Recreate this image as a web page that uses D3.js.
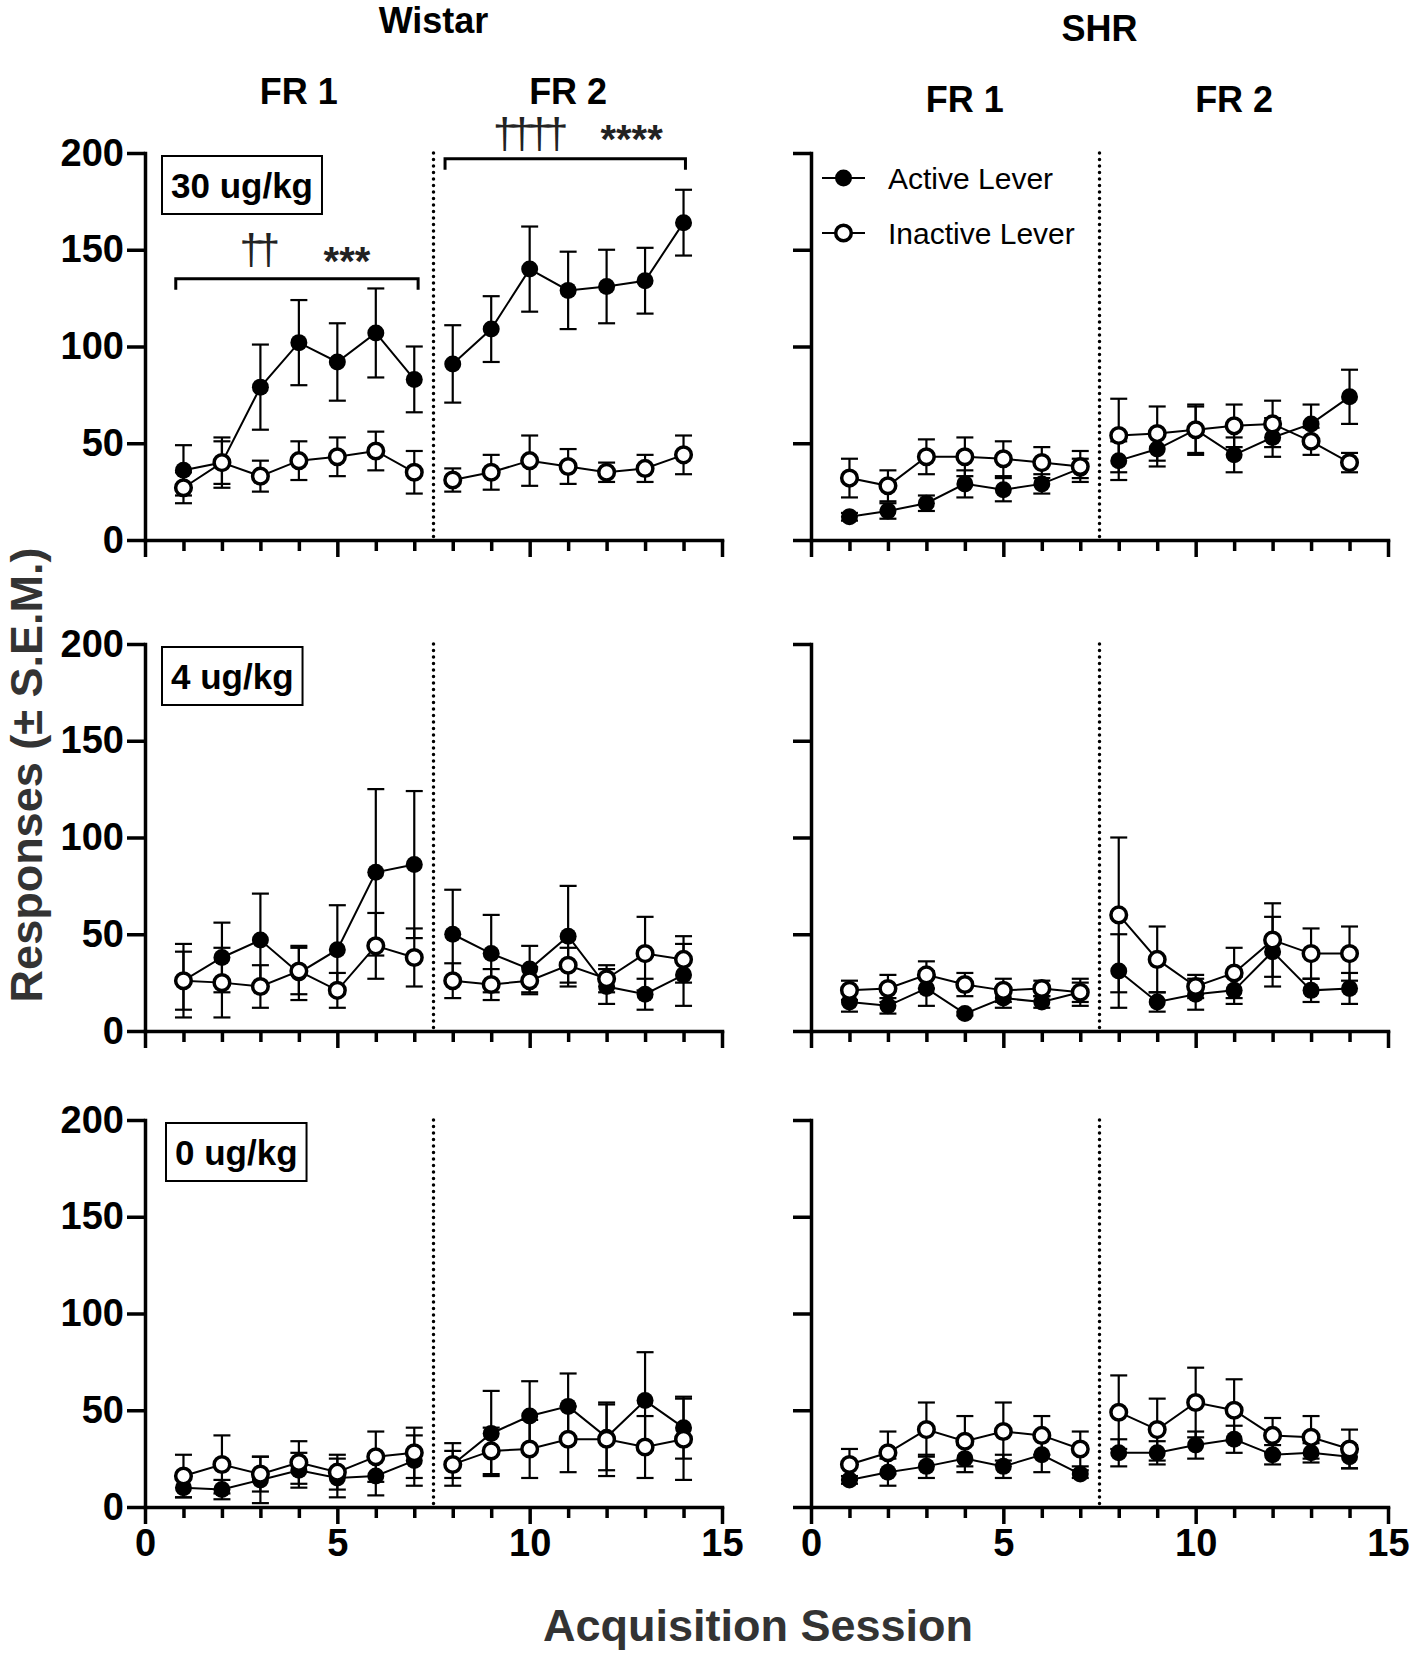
<!DOCTYPE html>
<html>
<head>
<meta charset="utf-8">
<script src="https://cdn.jsdelivr.net/npm/d3@7/dist/d3.min.js"></script>
<style>
  body { margin: 0; background: #fff; }
  svg text { font-family: "Liberation Sans", Arial, Helvetica, sans-serif; }
</style>
</head>
<body>
<div id="chart"></div>
<script>
// categories and ticks
const sessions = [1, 2, 3, 4, 5, 6, 7, 8, 9, 10, 11, 12, 13, 14];
const yTickValues = [0, 50, 100, 150, 200];
const xTickValues = [0, 1, 2, 3, 4, 5, 6, 7, 8, 9, 10, 11, 12, 13, 14, 15];
const xLabelValues = [0, 5, 10, 15];
const strains = ["Wistar", "SHR"];
const phases = ["FR 1", "FR 2"];
const doses = ["30 ug/kg", "4 ug/kg", "0 ug/kg"];
const seriesNames = ["Active Lever", "Inactive Lever"];

// Wistar, 30 ug/kg
const wistar30Active      = [36, 40, 79, 102, 92, 107, 83, 91, 109, 140, 129, 131, 134, 164];
const wistar30ActiveSem   = [13, 13, 22, 22, 20, 23, 17, 20, 17, 22, 20, 19, 17, 17];
const wistar30Inactive    = [27, 40, 33, 41, 43, 46, 35, 31, 35, 41, 38, 35, 37, 44];
const wistar30InactiveSem = [8, 11, 8, 10, 10, 10, 11, 6, 9, 13, 9, 5, 7, 10];
// SHR, 30 ug/kg
const shr30Active      = [12, 15, 19, 29, 26, 29, 37, 41, 47, 57, 44, 53, 60, 74];
const shr30ActiveSem   = [2, 4, 4, 7, 6, 5, 5, 10, 9, 12, 9, 10, 10, 14];
const shr30Inactive    = [32, 28, 43, 43, 42, 40, 38, 54, 55, 57, 59, 60, 51, 40];
const shr30InactiveSem = [10, 8, 9, 10, 9, 8, 8, 19, 14, 13, 11, 12, 7, 5];
// Wistar, 4 ug/kg
const wistar4Active      = [26, 38, 47, 30, 42, 82, 86, 50, 40, 32, 49, 23, 19, 29];
const wistar4ActiveSem   = [19, 18, 24, 14, 23, 43, 38, 23, 20, 12, 26, 9, 8, 16];
const wistar4Inactive    = [26, 25, 23, 31, 21, 44, 38, 26, 24, 26, 34, 27, 40, 37];
const wistar4InactiveSem = [15, 18, 11, 12, 9, 17, 15, 9, 8, 7, 9, 7, 19, 12];
// SHR, 4 ug/kg
const shr4Active      = [15, 13, 22, 9, 17, 15, 20, 31, 15, 19, 21, 41, 21, 22];
const shr4ActiveSem   = [5, 4, 9, 1, 5, 3, 5, 19, 5, 8, 7, 18, 6, 8];
const shr4Inactive    = [21, 22, 29, 24, 21, 22, 20, 60, 37, 23, 30, 47, 40, 40];
const shr4InactiveSem = [5, 7, 7, 6, 6, 4, 7, 40, 17, 6, 13, 19, 13, 14];
// Wistar, 0 ug/kg
const wistar0Active      = [10, 9, 14, 19, 15, 16, 24, 22, 38, 47, 52, 36, 55, 41];
const wistar0ActiveSem   = [5, 5, 12, 9, 10, 10, 13, 7, 22, 18, 17, 17, 25, 16];
const wistar0Inactive    = [16, 22, 17, 23, 18, 26, 28, 22, 29, 30, 35, 35, 31, 35];
const wistar0InactiveSem = [11, 15, 9, 11, 9, 13, 13, 11, 12, 15, 17, 19, 16, 21];
// SHR, 0 ug/kg
const shr0Active      = [14, 18, 21, 25, 21, 27, 17, 28, 28, 32, 35, 27, 28, 26];
const shr0ActiveSem   = [2, 7, 6, 7, 6, 9, 2, 7, 6, 7, 7, 5, 5, 6];
const shr0Inactive    = [22, 28, 40, 34, 39, 37, 30, 49, 40, 54, 50, 37, 36, 30];
const shr0InactiveSem = [8, 11, 14, 13, 15, 10, 9, 19, 16, 18, 16, 9, 11, 10];

// significance marks (Wistar 30 ug/kg panel), in session / response units
const brackets = [
    { from: 0.8, to: 7.1, value: 135 },
    { from: 7.8, to: 14.05, value: 197 }
];
const sigMarks = [
    { text: "††", session: 2.83, value: 144, kind: "dagger" },
    { text: "***", session: 5.25, value: 137, kind: "star" },
    { text: "††††", session: 9.87, value: 204, kind: "dagger" },
    { text: "****", session: 12.65, value: 200, kind: "star" }
];

const panels = [
    { col: 0, row: 0, active: wistar30Active, activeSem: wistar30ActiveSem, inactive: wistar30Inactive, inactiveSem: wistar30InactiveSem },
    { col: 1, row: 0, active: shr30Active, activeSem: shr30ActiveSem, inactive: shr30Inactive, inactiveSem: shr30InactiveSem },
    { col: 0, row: 1, active: wistar4Active, activeSem: wistar4ActiveSem, inactive: wistar4Inactive, inactiveSem: wistar4InactiveSem },
    { col: 1, row: 1, active: shr4Active, activeSem: shr4ActiveSem, inactive: shr4Inactive, inactiveSem: shr4InactiveSem },
    { col: 0, row: 2, active: wistar0Active, activeSem: wistar0ActiveSem, inactive: wistar0Inactive, inactiveSem: wistar0InactiveSem },
    { col: 1, row: 2, active: shr0Active, activeSem: shr0ActiveSem, inactive: shr0Inactive, inactiveSem: shr0InactiveSem }
];

// layout
const width = 1417, height = 1665;
const colLeft = [145, 811];
const panelW = 577;
const rowTop = [153, 644, 1120];
const panelH = 387;
const titleY = [33, 41];
const phaseY = [104, 112];

const svg = d3.select("#chart").append("svg")
    .attr("width", width)
    .attr("height", height)
    .style("background", "#fff");

const xScales = colLeft.map(x0 => d3.scaleLinear().domain([0, 15]).range([x0, x0 + panelW]));
const yScales = rowTop.map(y0 => d3.scaleLinear().domain([0, 200]).range([y0 + panelH, y0]));

// column headers
strains.forEach((name, c) => {
    const x = xScales[c];
    svg.append("text")
        .attr("x", x(7.5)).attr("y", titleY[c])
        .attr("text-anchor", "middle")
        .style("font-size", "36px").style("font-weight", "bold")
        .text(name);
    phases.forEach((p, i) => {
        svg.append("text")
            .attr("x", x(i === 0 ? 4 : 11)).attr("y", phaseY[c])
            .attr("text-anchor", "middle")
            .style("font-size", "36px").style("font-weight", "bold")
            .text(p);
    });
});

panels.forEach(p => {
    const x = xScales[p.col];
    const y = yScales[p.row];
    const g = svg.append("g");

    // y axis
    const yAxis = g.append("g")
        .attr("transform", `translate(${x(0)},0)`)
        .call(d3.axisLeft(y).tickValues(yTickValues).tickSize(18).tickSizeOuter(0).tickPadding(3)
            .tickFormat(d => p.col === 0 ? d : ""));
    yAxis.selectAll("text")
        .style("font-size", "38px").style("font-weight", "bold")
        .attr("fill", "#000");

    // x axis
    const xAxis = g.append("g")
        .attr("transform", `translate(0,${y(0)})`)
        .call(d3.axisBottom(x).tickValues(xTickValues).tickSize(11).tickSizeOuter(0).tickPadding(11)
            .tickFormat(d => (p.row === 2 && xLabelValues.includes(d)) ? d : ""));
    xAxis.selectAll(".tick line")
        .attr("y2", d => xLabelValues.includes(d) ? 17 : 11);
    xAxis.selectAll("text")
        .style("font-size", "38px").style("font-weight", "bold")
        .attr("fill", "#000");

    [yAxis, xAxis].forEach(a => {
        a.select(".domain").attr("stroke-width", 3.5).attr("stroke-linecap", "square");
        a.selectAll(".tick line").attr("stroke-width", 3.5);
    });

    // FR1 / FR2 divider
    g.append("line")
        .attr("x1", x(7.5)).attr("x2", x(7.5))
        .attr("y1", y(200)).attr("y2", y(0))
        .attr("stroke", "#000").attr("stroke-width", 3.5)
        .attr("stroke-dasharray", "0,6.5").attr("stroke-linecap", "round");

    // dose label box (left column only)
    if (p.col === 0) {
        const bx = x(0) + (p.row === 2 ? 21 : 17);
        const by = y(200) + 3;
        const box = g.append("rect")
            .attr("x", bx).attr("y", by)
            .attr("height", 58)
            .attr("fill", "#fff").attr("stroke", "#000").attr("stroke-width", 2);
        const lbl = g.append("text")
            .attr("x", bx + 9).attr("y", by + 42)
            .style("font-size", "35px").style("font-weight", "bold")
            .text(doses[p.row]);
        box.attr("width", lbl.node().getComputedTextLength() + 18);
    }

    const series = [
        { vals: p.active, sem: p.activeSem, open: false },
        { vals: p.inactive, sem: p.inactiveSem, open: true }
    ];
    const line = d3.line().x(d => x(d.s)).y(d => y(d.v));

    series.forEach(s => {
        const pts = sessions.map((d, i) => ({ s: d, v: s.vals[i], e: s.sem[i] }));
        const sg = g.append("g");
        // error bars
        const eb = sg.selectAll(".eb").data(pts).join("g").attr("class", "eb")
            .attr("stroke", "#000").attr("stroke-width", 2.2);
        eb.append("line")
            .attr("x1", d => x(d.s)).attr("x2", d => x(d.s))
            .attr("y1", d => y(d.v + d.e)).attr("y2", d => y(Math.max(0, d.v - d.e)));
        eb.append("line")
            .attr("x1", d => x(d.s) - 8.5).attr("x2", d => x(d.s) + 8.5)
            .attr("y1", d => y(d.v + d.e)).attr("y2", d => y(d.v + d.e));
        eb.append("line")
            .attr("x1", d => x(d.s) - 8.5).attr("x2", d => x(d.s) + 8.5)
            .attr("y1", d => y(Math.max(0, d.v - d.e))).attr("y2", d => y(Math.max(0, d.v - d.e)));
        // connecting lines, one per schedule
        [pts.filter(d => d.s <= 7), pts.filter(d => d.s >= 8)].forEach(seg => {
            sg.append("path").attr("d", line(seg))
                .attr("fill", "none").attr("stroke", "#000").attr("stroke-width", 2);
        });
        // markers
        sg.selectAll(".mk").data(pts).join("circle").attr("class", "mk")
            .attr("cx", d => x(d.s)).attr("cy", d => y(d.v))
            .attr("r", s.open ? 7.8 : 8.5)
            .attr("fill", s.open ? "#fff" : "#000")
            .attr("stroke", "#000").attr("stroke-width", s.open ? 3.5 : 0);
    });

    // significance brackets (Wistar 30 ug/kg)
    if (p.col === 0 && p.row === 0) {
        brackets.forEach(b => {
            const yy = y(b.value);
            g.append("path")
                .attr("d", `M${x(b.from)},${yy + 11}V${yy}H${x(b.to)}V${yy + 11}`)
                .attr("fill", "none").attr("stroke", "#000").attr("stroke-width", 3);
        });
        sigMarks.forEach(m => {
            const isStar = m.kind === "star";
            g.append("text")
                .attr("x", x(m.session) + (isStar ? 0 : 3)).attr("y", y(m.value) + (isStar ? 0 : 3))
                .attr("text-anchor", "middle")
                .attr("fill", "#222")
                .style("font-size", isStar ? "40px" : "42px")
                .style("font-weight", isStar ? "bold" : "normal")
                .style("letter-spacing", isStar ? "0px" : "-6px")
                .text(m.text);
        });
    }

    // legend (SHR 30 ug/kg)
    if (p.col === 1 && p.row === 0) {
        const lg = g.append("g");
        seriesNames.forEach((name, i) => {
            const ly = [178, 233][i];
            lg.append("line")
                .attr("x1", 822).attr("x2", 865).attr("y1", ly).attr("y2", ly)
                .attr("stroke", "#000").attr("stroke-width", 2);
            lg.append("circle")
                .attr("cx", 843.5).attr("cy", ly)
                .attr("r", i === 1 ? 7.8 : 8.5)
                .attr("fill", i === 1 ? "#fff" : "#000")
                .attr("stroke", "#000").attr("stroke-width", i === 1 ? 3.5 : 0);
            lg.append("text")
                .attr("x", 888).attr("y", ly + 11)
                .style("font-size", "30px")
                .text(name);
        });
    }
});

// axis titles
svg.append("text")
    .attr("transform", "translate(42,775) rotate(-90)")
    .attr("text-anchor", "middle")
    .attr("fill", "#333")
    .style("font-size", "45px").style("font-weight", "bold")
    .text("Responses (± S.E.M.)");

svg.append("text")
    .attr("x", 758).attr("y", 1641)
    .attr("text-anchor", "middle")
    .attr("fill", "#333")
    .style("font-size", "45px").style("font-weight", "bold")
    .text("Acquisition Session");
</script>
</body>
</html>
